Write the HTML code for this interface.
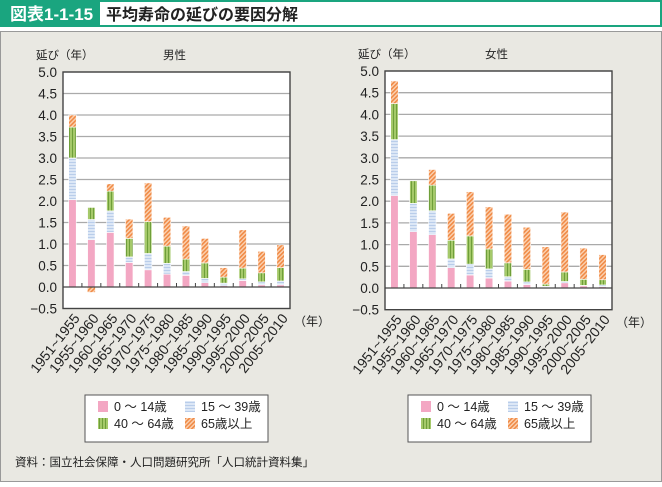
<!DOCTYPE html>
<html><head><meta charset="utf-8"><style>
body{margin:0;width:662px;height:482px;overflow:hidden;background:#fff;font-family:"Liberation Sans","Noto Sans CJK JP",sans-serif}
</style></head><body>
<svg id="s" width="662" height="482" xmlns="http://www.w3.org/2000/svg" font-family="Liberation Sans, Noto Sans CJK JP, sans-serif">
<defs>
<pattern id="pb" width="4" height="3" patternUnits="userSpaceOnUse"><rect width="4" height="3" fill="#dce7f6"/><rect width="4" height="1" fill="#b9cdea"/></pattern>
<pattern id="pg" width="3" height="4" patternUnits="userSpaceOnUse"><rect width="3" height="4" fill="#a5c96a"/><rect width="1" height="4" fill="#6f9f3a"/></pattern>
<pattern id="po" width="3" height="3" patternUnits="userSpaceOnUse" patternTransform="rotate(45)"><rect width="3" height="3" fill="#fbd3b4"/><rect width="1.6" height="3" fill="#f08a45"/></pattern>
</defs>
<rect x="1" y="1" width="660" height="25" fill="#fff" stroke="#1aa57f" stroke-width="2"/>
<rect x="0" y="0" width="100" height="27" fill="#1aa57f"/>
<text x="10" y="20" font-size="17" font-weight="bold" fill="#fff">図表1-1-15</text>
<text x="106" y="20" font-size="16" font-weight="bold" fill="#222">平均寿命の延びの要因分解</text>
<rect x="0.5" y="31.5" width="661" height="450" fill="#e9e8e2" stroke="#999"/>
<g id="g"></g>
<text x="15" y="466" font-size="11.5" fill="#222">資料：国立社会保障・人口問題研究所「人口統計資料集」</text>
</svg>
<script>
var g=document.getElementById('g'),h='';
var labels=["1951~1955","1955~1960","1960~1965","1965~1970","1970~1975","1975~1980","1980~1985","1985~1990","1990~1995","1995~2000","2000~2005","2005~2010"];
var male=[[2.03,0.97,0.72,0.28],[1.1,0.47,0.28,-0.12],[1.27,0.5,0.46,0.17],[0.57,0.13,0.43,0.45],[0.4,0.38,0.74,0.9],[0.3,0.25,0.4,0.67],[0.27,0.09,0.29,0.77],[0.1,0.1,0.36,0.57],[0.03,0.06,0.14,0.22],[0.15,0.04,0.25,0.89],[0.05,0.07,0.21,0.5],[0.05,0.09,0.31,0.53]];
var fem=[[2.13,1.29,0.83,0.52],[1.3,0.65,0.52,0],[1.23,0.55,0.59,0.36],[0.47,0.2,0.43,0.62],[0.3,0.25,0.65,1.02],[0.23,0.21,0.46,0.97],[0.16,0.1,0.32,1.12],[0.08,0.06,0.29,0.97],[0.02,0.02,0.05,0.86],[0.12,0.03,0.22,1.38],[0.05,0.01,0.14,0.72],[0.03,0.04,0.12,0.58]];
var fills=["#f3a7c3","url(#pb)","url(#pg)","url(#po)"];
function chart(x0,x1,y5,y0,data,title,lx){
 var u=(y0-y5)/5, yb=y0+0.5*u, w=x1-x0, slot=w/12;
 h+='<rect x="'+x0+'" y="'+y5+'" width="'+w+'" height="'+(yb-y5)+'" fill="#fff"/>';
 for(var i=1;i<=10;i++){var y=y0-i*0.5*u;h+='<line x1="'+x0+'" x2="'+x1+'" y1="'+y+'" y2="'+y+'" stroke="#aaa" stroke-width="1.3"/>';}
 for(var i=-1;i<=10;i++){var y=y0-i*0.5*u;h+='<text x="'+(x0-6)+'" y="'+(y+5)+'" font-size="13.5" text-anchor="end" fill="#222">'+(i<0?'−0.5':(i*0.5).toFixed(1))+'</text>';}
 h+='<text x="'+(x0-27)+'" y="'+(y5-13)+'" font-size="11.5" fill="#222">延び（年）</text>';
 h+='<text x="'+(x0+100)+'" y="'+(y5-13)+'" font-size="11.5" fill="#222">'+title+'</text>';
 data.forEach(function(d,k){var cx=x0+slot*(k+0.5),bw=7.5,acc=0;
  d.forEach(function(v,j){ if(v>=0){var t=acc+v;h+='<rect x="'+(cx-bw/2)+'" y="'+(y0-t*u)+'" width="'+bw+'" height="'+(v*u)+'" fill="'+fills[j]+'" stroke="#fff" stroke-width="0.6"/>';acc=t;}
   else{h+='<rect x="'+(cx-bw/2)+'" y="'+y0+'" width="'+bw+'" height="'+(-v*u)+'" fill="'+fills[j]+'"/>';}});
  if(k>0){var tx=x0+slot*k;h+='<line x1="'+tx+'" x2="'+tx+'" y1="'+y0+'" y2="'+(y0-4)+'" stroke="#444"/>';}
  h+='<text transform="translate('+(cx+8)+','+(yb+10)+') rotate(-52)" font-size="14" text-anchor="end" fill="#222">'+labels[k]+'</text>';
 });
 h+='<line x1="'+x0+'" x2="'+x1+'" y1="'+y0+'" y2="'+y0+'" stroke="#444" stroke-width="1.2"/>';
 h+='<rect x="'+x0+'" y="'+y5+'" width="'+w+'" height="'+(yb-y5)+'" fill="none" stroke="#444" stroke-width="1.4"/>';
 h+='<text x="'+(x1+4)+'" y="'+(yb+17)+'" font-size="12" fill="#222">（年）</text>';
 h+='<rect x="'+lx+'" y="395" width="183" height="47" fill="#fff" stroke="#555"/>';
 var L=[["0 ～ 14歳",0,0],["15 ～ 39歳",1,0],["40 ～ 64歳",2,1],["65歳以上",3,1]];
 L.forEach(function(l){var ex=lx+13+(l[1]%2)*87,ey=401+l[2]*17;h+='<rect x="'+ex+'" y="'+ey+'" width="10" height="11" fill="'+fills[l[1]]+'"/><text x="'+(ex+16)+'" y="'+(ey+10)+'" font-size="12.5" fill="#222">'+l[0]+'</text>';});
}
chart(63,290,72,287,male,"男性",85);
chart(385,612,71,288,fem,"女性",408);
g.innerHTML=h;
</script>
</body></html>
